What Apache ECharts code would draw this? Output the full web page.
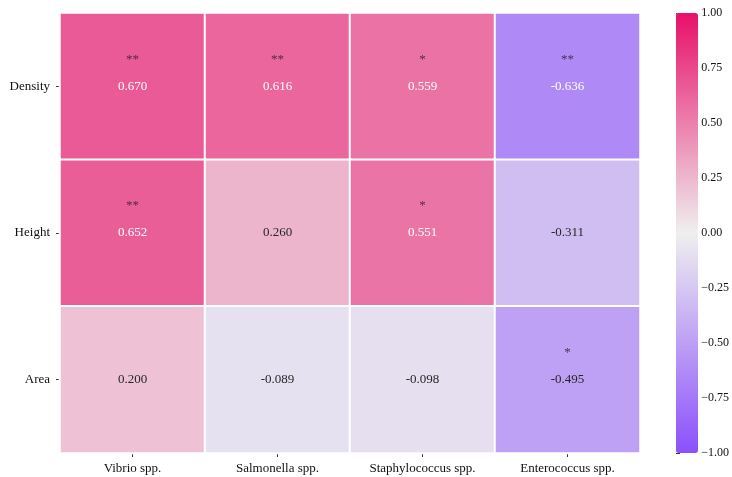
<!DOCTYPE html>
<html>
<head>
<meta charset="utf-8">
<script src="https://cdn.jsdelivr.net/npm/echarts@6/dist/echarts.min.js"></script>
<style>
  html, body { margin: 0; padding: 0; background: #fff; }
  #chart { width: 732px; height: 477px; }
</style>
</head>
<body>
<div id="chart"></div>
<script>
// Correlation between bacterial counts and plant traits
const species = ['Vibrio spp.', 'Salmonella spp.', 'Staphylococcus spp.', 'Enterococcus spp.'];
const traits = ['Density', 'Height', 'Area'];

const densityR = [0.670, 0.616, 0.559, -0.636];
const heightR = [0.652, 0.260, 0.551, -0.311];
const areaR = [0.200, -0.089, -0.098, -0.495];

const densitySig = ['**', '**', '*', '**'];
const heightSig = ['**', '', '*', ''];
const areaSig = ['', '', '', '*'];

const colorbarMin = -1;
const colorbarMax = 1;
const colorbarStep = 0.25;

const rows = [densityR, heightR, areaR];
const sigRows = [densitySig, heightSig, areaSig];

const FONT = "'Liberation Serif', 'Times New Roman', serif";

const cells = [];
const stars = [];
rows.forEach((vals, r) => {
  vals.forEach((v, c) => {
    cells.push({
      value: [c, r, v],
      label: { color: Math.abs(v) > 0.5 ? '#ffffff' : '#262626' }
    });
    if (sigRows[r][c]) stars.push({ value: [c, r], sig: sigRows[r][c] });
  });
});

const chart = echarts.init(document.getElementById('chart'), null, { renderer: 'canvas' });

chart.setOption({
  backgroundColor: '#ffffff',
  animation: false,
  grid: [
    { left: 60, right: 92, top: 13, bottom: 24 },
    { left: 676, width: 22, top: 13, height: 440 }
  ],
  xAxis: [
    {
      type: 'category',
      gridIndex: 0,
      data: species,
      axisLine: { show: false },
      axisTick: { show: true, alignWithLabel: true, length: 4, lineStyle: { color: '#333' } },
      axisLabel: { color: '#111', fontFamily: FONT, fontSize: 13, margin: 9 },
      splitLine: { show: false }
    },
    { type: 'value', gridIndex: 1, show: false, min: 0, max: 1 }
  ],
  yAxis: [
    {
      type: 'category',
      gridIndex: 0,
      data: traits,
      inverse: true,
      axisLine: { show: false },
      axisTick: { show: true, alignWithLabel: true, length: 4, lineStyle: { color: '#333' } },
      axisLabel: { color: '#111', fontFamily: FONT, fontSize: 13, margin: 10 },
      splitLine: { show: false }
    },
    {
      type: 'value',
      gridIndex: 1,
      position: 'right',
      min: colorbarMin,
      max: colorbarMax,
      interval: colorbarStep,
      axisLine: { show: false },
      axisTick: { show: true, length: 4, lineStyle: { color: '#333' } },
      axisLabel: {
        color: '#111', fontFamily: FONT, fontSize: 12, margin: 7,
        formatter: v => v.toFixed(2).replace('-', '\u2212')
      },
      splitLine: { show: false }
    }
  ],
  visualMap: {
    type: 'continuous',
    seriesIndex: 0,
    min: colorbarMin,
    max: colorbarMax,
    calculable: false,
    orient: 'vertical',
    left: 676,
    top: 13,
    padding: 0,
    itemWidth: 22,
    itemHeight: 440,
    text: ['', ''],
    showLabel: false,
    inRange: { color: ['#8b50fb', '#efefef', '#e8106a'] }
  },
  series: [
    {
      type: 'heatmap',
      xAxisIndex: 0,
      yAxisIndex: 0,
      data: cells,
      itemStyle: { borderColor: '#ffffff', borderWidth: 2 },
      emphasis: { disabled: true },
      label: {
        show: true,
        fontFamily: FONT,
        fontSize: 13,
        formatter: p => p.value[2].toFixed(3)
      }
    },
    {
      type: 'scatter',
      xAxisIndex: 0,
      yAxisIndex: 0,
      symbolSize: 0,
      silent: true,
      data: stars,
      label: {
        show: true,
        position: 'inside',
        offset: [0, -27],
        fontFamily: FONT,
        fontSize: 13,
        color: '#2a1a24',
        formatter: p => p.data.sig
      }
    }
  ]
});
</script>
</body>
</html>
